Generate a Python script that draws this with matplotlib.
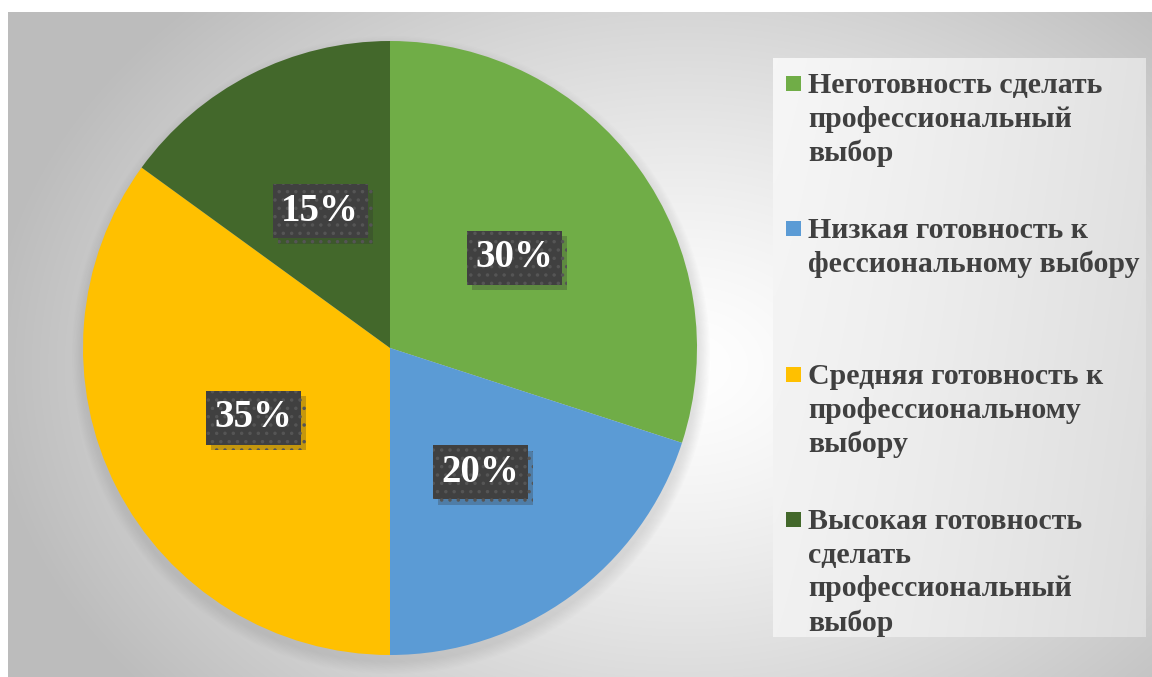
import numpy as np
import matplotlib
matplotlib.use("Agg")
import matplotlib.pyplot as plt
from matplotlib.patches import Rectangle, Circle
import matplotlib.patheffects as pe

# данные диаграммы
categories = [
    "Неготовность сделать\nпрофессиональный\nвыбор",
    "Низкая готовность к\nфессиональному выбору",
    "Средняя готовность к\nпрофессиональному\nвыбору",
    "Высокая готовность\nсделать\nпрофессиональный\nвыбор",
]
values = [30, 20, 35, 15]
colors = ["#70AD47", "#5B9BD5", "#FFC000", "#43682B"]

W, H = 1152, 677
fig = plt.figure(figsize=(W / 100, H / 100), dpi=100)
fig.patch.set_facecolor("white")

# фон с радиальным градиентом
bg = fig.add_axes([0, 0, 1, 1])
bg.axis("off")
yy, xx = np.mgrid[0:H, 0:W]
d = np.sqrt(((xx - 680) / 700.0) ** 2 + ((yy - 360) / 520.0) ** 2)
g = np.clip(1.0 - 0.26 * d ** 1.3, 0.74, 1.0)
bg.imshow(np.dstack([g, g, g]), extent=(8, W, H, 12), zorder=0,
          interpolation="bilinear")

# рамка легенды
lx0, ly0, lx1, ly1 = 773, 58, 1146, 637
ly, lx = np.mgrid[0:100, 0:100]
lg = 0.965 - 0.08 * (lx / 100.0) ** 1.2 - 0.02 * (ly / 100.0)
bg.imshow(np.dstack([lg, lg, lg]), extent=(lx0, lx1, ly1, ly0), zorder=1,
          interpolation="bilinear")
bg.set_xlim(0, W)
bg.set_ylim(H, 0)

# мягкая тень под кругом
cx, cy, r = 390, 348, 307
for k in range(10):
    bg.add_patch(Circle((cx + 1, cy + 7), r + 12 - k * 1.3, color="#909090",
                        alpha=0.022, lw=0, zorder=2))

# круговая диаграмма
ax = fig.add_axes([(cx - r) / W, (H - cy - r) / H, 2 * r / W, 2 * r / H])
wedges, texts, autotexts = ax.pie(
    values, colors=colors, startangle=90, counterclock=False,
    autopct=lambda p: f"{p:.0f}%", pctdistance=0.5,
    wedgeprops=dict(linewidth=0),
    textprops=dict(family="Liberation Serif", weight="bold", color="white",
                   fontsize=28),
)
ax.set_xlim(-1, 1)
ax.set_ylim(-1, 1)
ax.set_aspect("auto")
ax.axis("off")

plt.rcParams["hatch.linewidth"] = 1.3
for t in autotexts:
    t.set_bbox(dict(boxstyle="square,pad=0.22", fc="#404040", ec="#555555",
                    lw=0, hatch=".."))
    t.get_bbox_patch().set_path_effects([
        pe.SimplePatchShadow(offset=(4, -4), shadow_rgbFace="#303030", alpha=0.28),
        pe.Normal(),
    ])

# легенда
item_mid = [84, 229, 375, 520]
for lab, col, y in zip(categories, colors, item_mid):
    bg.add_patch(Rectangle((786, y - 8), 15, 15, color=col, lw=0, zorder=3))
    bg.text(808, y - 12, lab, family="Liberation Serif", weight="bold",
            fontsize=21.5, color="#404040", va="top", ha="left",
            linespacing=1.32, zorder=3)

fig.savefig("out.png", dpi=100)
